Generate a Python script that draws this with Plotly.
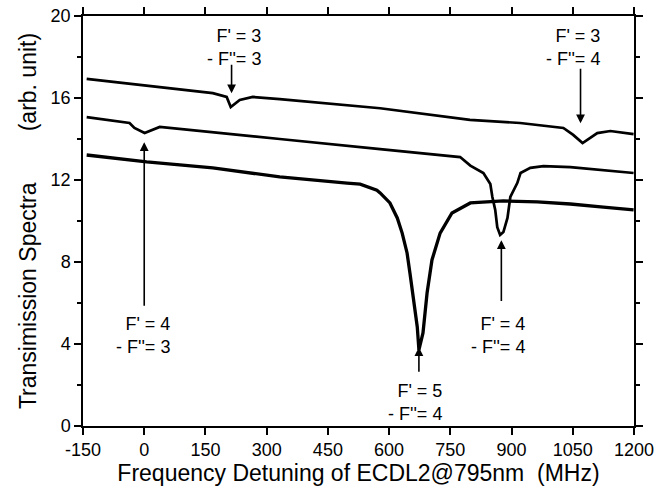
import plotly.graph_objects as go

# ---- data (MHz, arb. unit) ----
top_x = [-141, 6, 168, 202, 212, 234, 266, 332, 578, 798, 921, 1027, 1051, 1074, 1110, 1142, 1199]
top_y = [16.93, 16.59, 16.24, 16.05, 15.56, 15.90, 16.05, 15.95, 15.50, 14.93, 14.78, 14.54, 14.20, 13.80, 14.29, 14.39, 14.24]

mid_x = [-141, -36, -24, 1, 38, 168, 332, 578, 774, 799, 831, 848, 853, 860, 865, 872, 880, 890, 897, 914, 922, 946, 978, 1044, 1199]
mid_y = [15.07, 14.78, 14.54, 14.29, 14.59, 14.34, 14.00, 13.51, 13.12, 12.70, 12.34, 11.80, 11.17, 10.54, 9.70, 9.32, 9.46, 10.15, 11.17, 11.85, 12.34, 12.59, 12.68, 12.63, 12.34]

bot_x = [-141, 6, 168, 332, 497, 529, 570, 578, 602, 620, 632, 644, 651, 659, 669, 673, 683, 693, 705, 725, 754, 799, 880, 963, 1044, 1125, 1199]
bot_y = [13.22, 12.88, 12.59, 12.15, 11.85, 11.80, 11.50, 11.37, 10.88, 10.15, 9.41, 8.44, 7.46, 6.15, 4.83, 3.71, 4.54, 6.49, 8.10, 9.41, 10.39, 10.88, 10.98, 10.93, 10.83, 10.68, 10.54]

x_ticks = [-150, 0, 150, 300, 450, 600, 750, 900, 1050, 1200]
x_ticklabels = ["-150", "0", "150", "300", "450", "600", "750", "900", "1050", "1200"]
y_ticks = [0, 4, 8, 12, 16, 20]
y_ticklabels = ["0", "4", "8", "12", "16", "20"]

# transition labels: text, text anchor (x, y), arrow tail (x, y), arrow head (x, y)
labels = ["F' = 3<br>- F''= 3", "F' = 3<br>- F''= 4", "F' = 4<br>- F''= 3", "F' = 4<br>- F''= 4", "F' = 5<br>- F''= 4"]
label_x = [288, 1120, 65, 936, 732]
label_y = [18.47, 18.47, 4.42, 4.42, 1.16]
arrow_x = [214, 1069, 0, 875, 673]
arrow_tail_y = [17.69, 17.50, 5.79, 6.03, 2.57]
arrow_head_y = [16.23, 14.77, 13.84, 9.06, 3.84]

FONT = "Arial, Liberation Sans, sans-serif"

fig = go.Figure()
fig.add_trace(go.Scatter(x=top_x, y=top_y, mode="lines", line=dict(color="black", width=2.7), showlegend=False))
fig.add_trace(go.Scatter(x=mid_x, y=mid_y, mode="lines", line=dict(color="black", width=2.7), showlegend=False))
fig.add_trace(go.Scatter(x=bot_x, y=bot_y, mode="lines", line=dict(color="black", width=3.3), showlegend=False))

annotations = []
for t, lx, ly in zip(labels, label_x, label_y):
    annotations.append(dict(x=lx, y=ly, xref="x", yref="y", text=t, showarrow=False,
                            xanchor="right", yanchor="middle", align="right", borderpad=0,
                            font=dict(family=FONT, size=18, color="black")))
for ax_, ty, hy in zip(arrow_x, arrow_tail_y, arrow_head_y):
    annotations.append(dict(x=ax_, y=hy, ax=ax_, ay=ty, xref="x", yref="y", axref="x", ayref="y",
                            text="", showarrow=True, arrowhead=2, arrowsize=1.1, arrowwidth=1.6,
                            arrowcolor="black", standoff=0, startstandoff=0))

fig.update_layout(
    width=656, height=496,
    margin=dict(l=83, r=22, t=16, b=70),
    paper_bgcolor="white", plot_bgcolor="white",
    font=dict(family=FONT, size=18, color="black"),
    annotations=annotations,
    xaxis=dict(range=[-150, 1200], tickvals=x_ticks, ticktext=x_ticklabels,
               ticks="outside", ticklen=7, tickwidth=1.5, tickcolor="black",
               showline=True, linewidth=1.5, linecolor="black", mirror="ticks",
               showgrid=False, zeroline=False, automargin=False, ticklabeloverflow="allow",
               tickfont=dict(family=FONT, size=18),
               title=dict(text="Frequency Detuning of ECDL2@795nm  (MHz)",
                          font=dict(family=FONT, size=23), standoff=6)),
    yaxis=dict(range=[0, 20], tickvals=y_ticks, ticktext=y_ticklabels,
               ticks="outside", ticklen=7, tickwidth=1.5, tickcolor="black",
               minor=dict(dtick=2, ticks="outside", ticklen=4, tickwidth=1.5, tickcolor="black"),
               showline=True, linewidth=1.5, linecolor="black", mirror="ticks",
               showgrid=False, zeroline=False, automargin=False, ticklabeloverflow="allow",
               tickfont=dict(family=FONT, size=18),
               title=dict(text="Transimission Spectra        (arb. unit)",
                          font=dict(family=FONT, size=23), standoff=8)),
)

fig.write_html("out.html", config={"displayModeBar": False},
               post_script="document.body.style.margin='0';document.body.style.overflow='hidden';")
